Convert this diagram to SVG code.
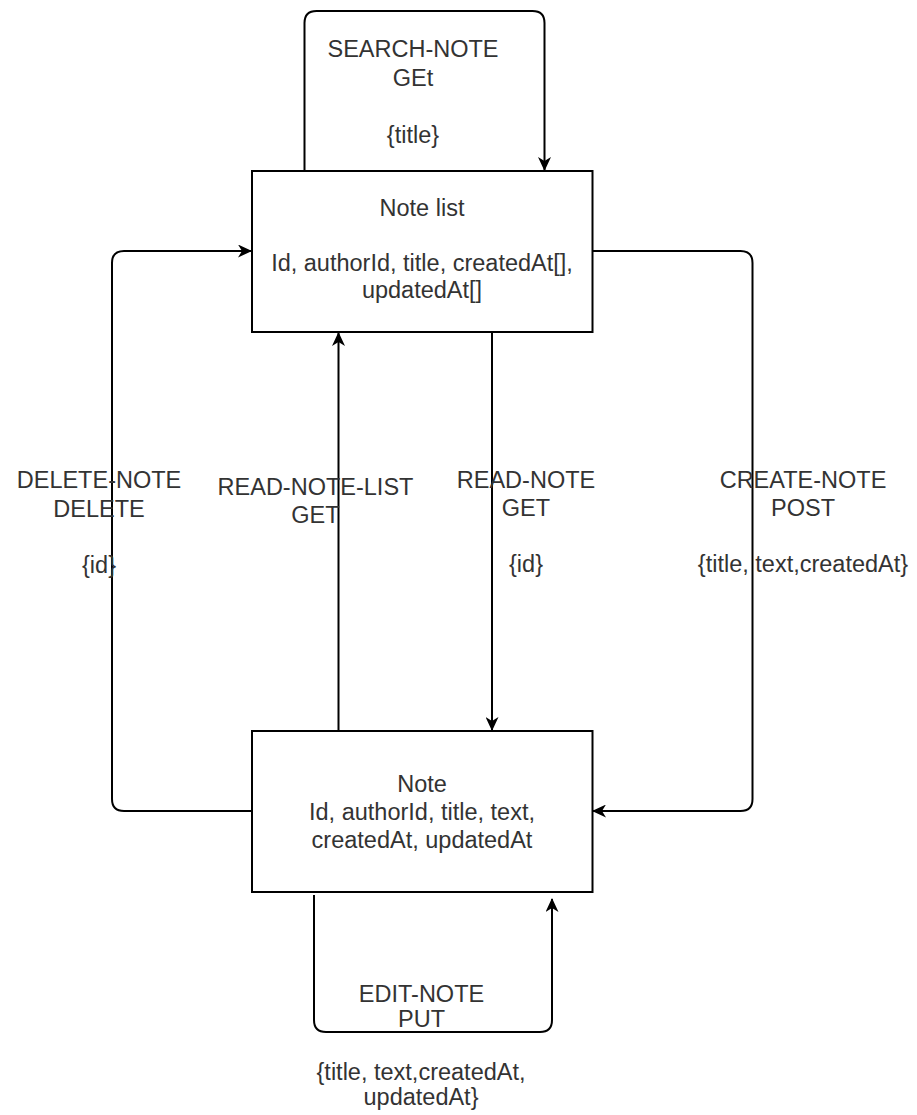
<svg xmlns="http://www.w3.org/2000/svg" width="917" height="1115" viewBox="0 0 917 1115">
  <style>
    .box { fill: #ffffff; stroke: #000000; stroke-width: 2; }
    .edge { fill: none; stroke: #000000; stroke-width: 2; marker-end: url(#arrow); }
    text { font-family: "Liberation Sans", Arial, Helvetica, sans-serif; font-size: 23.5px; fill: #333333; text-anchor: middle; }
  </style>
  <defs>
    <!-- classic notched arrowhead -->
    <marker id="arrow" viewBox="0 0 14 13" refX="13" refY="6.5" markerWidth="14" markerHeight="13" markerUnits="userSpaceOnUse" orient="auto">
      <path d="M0,0 L14,6.5 L0,13 L4,6.5 Z" fill="#000000"/>
    </marker>
  </defs>
  <rect width="917" height="1115" fill="#ffffff"/>

  <!-- connectors -->
  <g id="connectors">
    <!-- search loop on the list -->
    <path id="edge-search" class="edge" d="M304.5,171 V23 Q304.5,11 316.5,11 H532.5 Q544.5,11 544.5,23 V170"/>
    <!-- delete: note back to list -->
    <path id="edge-delete" class="edge" d="M252,811 H124 Q112,811 112,799 V263 Q112,251 124,251 H251"/>
    <!-- read list -->
    <path id="edge-read-list" class="edge" d="M338.5,731 V333"/>
    <!-- read single note -->
    <path id="edge-read-note" class="edge" d="M492,332 V730"/>
    <!-- create -->
    <path id="edge-create" class="edge" d="M592,251 H740.5 Q752.5,251 752.5,263 V799 Q752.5,811 740.5,811 H593"/>
    <!-- edit loop on the note -->
    <path id="edge-edit" class="edge" d="M314,895 V1020 Q314,1032 326,1032 H540 Q552,1032 552,1020 V899"/>
  </g>

  <!-- edge labels -->
  <g id="labels">
    <text x="413" y="57">SEARCH-NOTE</text>
    <text x="413" y="86">GEt</text>
    <text x="413" y="143">{title}</text>

    <text x="99" y="488">DELETE-NOTE</text>
    <text x="99" y="517">DELETE</text>
    <text x="99" y="573">{id}</text>

    <text x="315.5" y="495">READ-NOTE-LIST</text>
    <text x="315.5" y="523">GET</text>

    <text x="526" y="488">READ-NOTE</text>
    <text x="526" y="516">GET</text>
    <text x="526" y="572">{id}</text>

    <text x="803" y="488">CREATE-NOTE</text>
    <text x="803" y="516">POST</text>
    <text x="803" y="572">{title, text,createdAt}</text>

    <text x="421.5" y="1002">EDIT-NOTE</text>
    <text x="421.5" y="1027">PUT</text>
    <text x="421" y="1080">{title, text,createdAt,</text>
    <text x="421" y="1105">updatedAt}</text>
  </g>

  <!-- list node -->
  <g id="node-note-list">
    <rect class="box" x="252" y="171" width="340.5" height="161"/>
    <text x="422" y="216">Note list</text>
    <text x="422" y="271">Id, authorId, title, createdAt[],</text>
    <text x="422" y="298">updatedAt[]</text>
  </g>

  <!-- single note node -->
  <g id="node-note">
    <rect class="box" x="252" y="731" width="340.5" height="161"/>
    <text x="422" y="792">Note</text>
    <text x="422" y="820">Id, authorId, title, text,</text>
    <text x="422" y="848">createdAt, updatedAt</text>
  </g>
</svg>
